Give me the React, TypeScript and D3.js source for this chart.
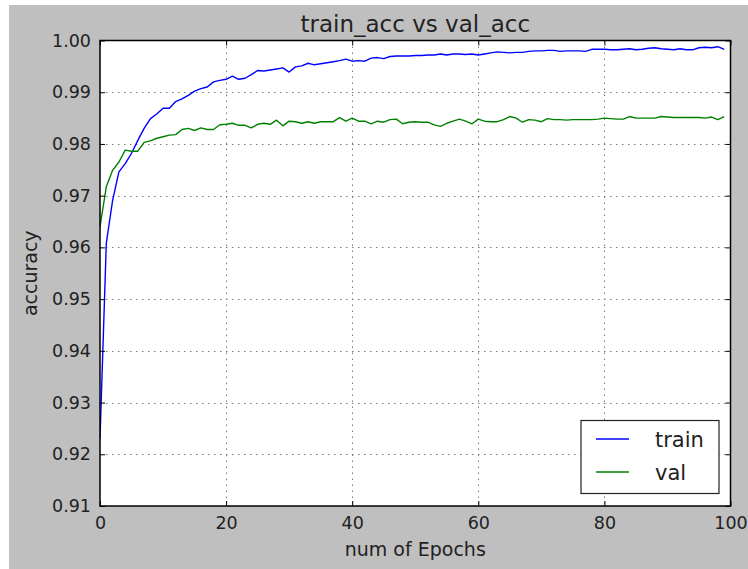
import React, { useEffect, useRef } from 'react';
import * as d3 from 'd3';

const width = 748;
const height = 569;

// accuracy per epoch
const trainAcc = [
  0.923, 0.9608, 0.9691, 0.9746, 0.9762, 0.9782, 0.9807, 0.983, 0.9849, 0.9858,
  0.9869, 0.9869, 0.9882, 0.9887, 0.9894, 0.9902, 0.9907, 0.991, 0.992, 0.9923,
  0.9925, 0.9931, 0.9925, 0.9927, 0.9934, 0.9942, 0.9941, 0.9943, 0.9945, 0.9947,
  0.9939, 0.9949, 0.9951, 0.9956, 0.9953, 0.9955, 0.9957, 0.9959, 0.9961, 0.9964,
  0.996, 0.9961, 0.996, 0.9966, 0.9967, 0.9965, 0.9969, 0.997, 0.997, 0.997,
  0.9971, 0.9971, 0.9972, 0.9972, 0.9974, 0.9972, 0.9974, 0.9974, 0.9973, 0.9974,
  0.9972, 0.9974, 0.9976, 0.9978, 0.9977, 0.9976, 0.9977, 0.9977, 0.9979, 0.998,
  0.998, 0.9981, 0.9981, 0.9979, 0.998, 0.998, 0.998, 0.9979, 0.9983, 0.9983,
  0.9983, 0.9982, 0.9982, 0.9983, 0.9984, 0.9982, 0.9983, 0.9985, 0.9986, 0.9984,
  0.9983, 0.9982, 0.9984, 0.9982, 0.9982, 0.9986, 0.9987, 0.9986, 0.9988, 0.9983,
];

const valAcc = [
  0.964, 0.9717, 0.9749, 0.9765, 0.9788, 0.9786, 0.9786, 0.9803, 0.9806, 0.9811,
  0.9814, 0.9817, 0.9818, 0.9828, 0.983, 0.9826, 0.9831, 0.9828, 0.9828, 0.9837,
  0.9838, 0.984, 0.9836, 0.9836, 0.9831, 0.9838, 0.984, 0.9838, 0.9846, 0.9835,
  0.9844, 0.9843, 0.984, 0.9843, 0.984, 0.9843, 0.9843, 0.9843, 0.9851, 0.9844,
  0.985, 0.9844, 0.9844, 0.9839, 0.9844, 0.9842, 0.9847, 0.9848, 0.9839, 0.9842,
  0.9843, 0.9842, 0.9842, 0.9837, 0.9834, 0.984, 0.9844, 0.9848, 0.9844, 0.9839,
  0.9848, 0.9844, 0.9843, 0.9843, 0.9847, 0.9853, 0.985, 0.9842, 0.9847, 0.9846,
  0.9843, 0.9849, 0.9847, 0.9847, 0.9846, 0.9847, 0.9847, 0.9847, 0.9847, 0.9848,
  0.985, 0.9849, 0.9848, 0.9848, 0.9853, 0.985, 0.985, 0.985, 0.985, 0.9853,
  0.9852, 0.9851, 0.9851, 0.9851, 0.9851, 0.9851, 0.985, 0.9852, 0.9847, 0.9853,
];

const xTicks = [0, 20, 40, 60, 80, 100];
const yTicks = [0.91, 0.92, 0.93, 0.94, 0.95, 0.96, 0.97, 0.98, 0.99, 1.0];

const series = [
  { name: 'train', values: trainAcc, color: '#0000ff' },
  { name: 'val', values: valAcc, color: '#008000' },
];

const font = 'DejaVu Sans, sans-serif';

function App() {
  const ref = useRef<SVGSVGElement>(null);

  useEffect(() => {
    const svg = d3.select(ref.current);
    svg.selectAll('*').remove();

    const left = 100, right = 730.5, top = 40.5, bottom = 506;

    const x = d3.scaleLinear().domain([0, 100]).range([left, right]);
    const y = d3.scaleLinear().domain([0.91, 1.0]).range([bottom, top]);

    // figure background
    svg.append('rect')
      .attr('x', 9).attr('y', 5)
      .attr('width', width - 9).attr('height', height - 5)
      .attr('fill', '#bfbfbf');

    svg.append('rect')
      .attr('x', left).attr('y', top)
      .attr('width', right - left).attr('height', bottom - top)
      .attr('fill', '#ffffff');

    // grid
    const grid = svg.append('g')
      .attr('stroke', '#7a7a7a')
      .attr('stroke-width', 1)
      .attr('stroke-dasharray', '1.5,4.5');

    grid.selectAll('line.gx')
      .data(xTicks.slice(1, -1))
      .enter()
      .append('line')
        .attr('x1', d => Math.round(x(d)) + 0.5)
        .attr('x2', d => Math.round(x(d)) + 0.5)
        .attr('y1', top).attr('y2', bottom);

    grid.selectAll('line.gy')
      .data(yTicks.slice(1, -1))
      .enter()
      .append('line')
        .attr('y1', d => Math.round(y(d)) + 0.5)
        .attr('y2', d => Math.round(y(d)) + 0.5)
        .attr('x1', left).attr('x2', right);

    // lines
    svg.append('clipPath').attr('id', 'plotClip')
      .append('rect')
      .attr('x', left).attr('y', top)
      .attr('width', right - left).attr('height', bottom - top);

    const line = d3.line<number>()
      .x((_, i) => x(i))
      .y(d => y(d));

    svg.append('g')
      .attr('clip-path', 'url(#plotClip)')
      .selectAll('path')
      .data(series)
      .enter()
      .append('path')
        .attr('d', d => line(d.values))
        .attr('fill', 'none')
        .attr('stroke', d => d.color)
        .attr('stroke-width', 1.4)
        .attr('stroke-linejoin', 'round');

    // axes with inward ticks (classic style)
    const axisBottom = d3.axisBottom(x).tickValues(xTicks).tickSizeInner(-5).tickSizeOuter(0).tickPadding(6);
    const axisTop = d3.axisTop(x).tickValues(xTicks).tickSizeInner(-5).tickSizeOuter(0).tickFormat(() => '');
    const axisLeft = d3.axisLeft(y).tickValues(yTicks).tickSizeInner(-5).tickSizeOuter(0).tickPadding(9)
      .tickFormat(d3.format('.2f'));
    const axisRight = d3.axisRight(y).tickValues(yTicks).tickSizeInner(-5).tickSizeOuter(0).tickFormat(() => '');

    const styleAxis = (g) => {
      g.select('.domain').remove();
      g.selectAll('line').attr('stroke', '#000').attr('stroke-width', 1);
      g.selectAll('text')
        .attr('fill', '#222')
        .style('font-family', font)
        .style('font-size', '17.5px');
    };

    svg.append('g').attr('transform', `translate(0,${bottom})`).call(axisBottom).call(styleAxis)
      .selectAll('text').attr('dy', '0.95em');
    svg.append('g').attr('transform', `translate(0,${top})`).call(axisTop).call(styleAxis);
    svg.append('g').attr('transform', `translate(${left},0)`).call(axisLeft).call(styleAxis);
    svg.append('g').attr('transform', `translate(${right},0)`).call(axisRight).call(styleAxis);

    // frame
    svg.append('rect')
      .attr('x', left).attr('y', top)
      .attr('width', right - left).attr('height', bottom - top)
      .attr('fill', 'none')
      .attr('stroke', '#000')
      .attr('stroke-width', 1.5);

    // titles
    svg.append('text')
      .attr('x', (left + right) / 2).attr('y', 32)
      .attr('text-anchor', 'middle')
      .style('font-family', font).style('font-size', '23px')
      .attr('fill', '#222')
      .text('train_acc vs val_acc');

    svg.append('text')
      .attr('x', (left + right) / 2).attr('y', 556)
      .attr('text-anchor', 'middle')
      .style('font-family', font).style('font-size', '19px')
      .attr('fill', '#222')
      .text('num of Epochs');

    svg.append('text')
      .attr('transform', `translate(37,${(top + bottom) / 2}) rotate(-90)`)
      .attr('text-anchor', 'middle')
      .style('font-family', font).style('font-size', '19px')
      .attr('fill', '#222')
      .text('accuracy');

    // legend
    const legend = svg.append('g');
    legend.append('rect')
      .attr('x', 581).attr('y', 420.5)
      .attr('width', 138).attr('height', 73)
      .attr('fill', '#fff')
      .attr('stroke', '#222')
      .attr('stroke-width', 1.2);

    const items = legend.selectAll('g.item')
      .data(series)
      .enter()
      .append('g')
        .attr('transform', (d, i) => `translate(0,${439 + i * 33})`);

    items.append('line')
      .attr('x1', 596).attr('x2', 629)
      .attr('y1', 0).attr('y2', 0)
      .attr('stroke', d => d.color)
      .attr('stroke-width', 1.4);

    items.append('text')
      .attr('x', 655).attr('y', 0).attr('dy', '0.36em')
      .style('font-family', font).style('font-size', '21px')
      .attr('fill', '#222')
      .text(d => d.name);
  });

  return (
    <svg
      ref={ref}
      width={width}
      height={height}
      style={{ position: 'absolute', left: 0, top: 0, background: '#fff' }}
    />
  );
}

export default App;
